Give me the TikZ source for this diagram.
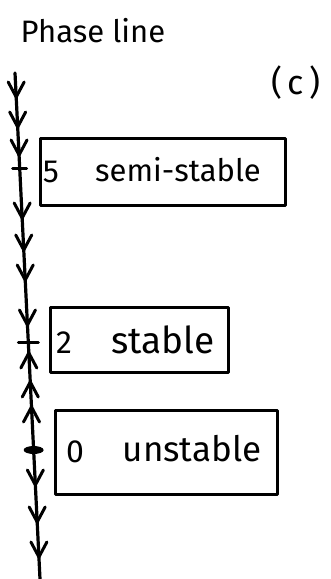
\documentclass[tikz,border=0pt]{standalone}
\usepackage{fontspec}
\setmainfont{Fira Sans}
\usetikzlibrary{calc}
\begin{document}
\begin{tikzpicture}[x=1pt,y=-1pt, line cap=round, line join=round,
  axisline/.style={line width=3.2pt},
  chev/.style={line width=3pt},
  boxnode/.style={draw, line width=3pt, rectangle, inner sep=0pt},
  lbl/.style={inner sep=0pt, anchor=base},
]
\useasboundingbox (0,0) rectangle (331,579);

% title and label
\node[lbl, font=\fontsize{31}{33}\selectfont] (title) at (93,42) {Phase line};
\node[lbl, font=\fontsize{34}{36}\selectfont] (part) at (296,94) {(\,c\,)};

% phase line axis
\coordinate (top) at (15,73);
\coordinate (bot) at (40,579);
\draw[axisline] (top) -- (bot);

% downward arrows
\foreach \yy in {97,127,155,218,250,280,325,485,522,557} {
  \pgfmathsetmacro\tpos{(\yy-73)/506}
  \coordinate (p) at ($(top)!\tpos!(bot)$);
  \draw[chev] ($(p)+(-8,-15)$) -- (p) -- ($(p)+(8,-15)$);
}
% upward arrows
\foreach \yy in {353,382,407} {
  \pgfmathsetmacro\tpos{(\yy-73)/506}
  \coordinate (p) at ($(top)!\tpos!(bot)$);
  \draw[chev] ($(p)+(-8,15)$) -- (p) -- ($(p)+(8,15)$);
}
% equilibrium ticks
\coordinate (e5) at ($(top)!{(168-73)/506}!(bot)$);
\coordinate (e2) at ($(top)!{(343-73)/506}!(bot)$);
\coordinate (e0) at ($(top)!{(450-73)/506}!(bot)$);
\draw[chev] ($(e5)+(-7,0)$) -- ($(e5)+(7,0)$);
\draw[chev] ($(e2)+(-10,0)$) -- ($(e2)+(10,0)$);
\fill (e0) ellipse [x radius=10pt, y radius=4pt];

% boxes
\node[boxnode, minimum width=245pt, minimum height=67pt] (box5) at (162.5,171.5) {};
\node[boxnode, minimum width=178pt, minimum height=65pt] (box2) at (139,339.5) {};
\node[boxnode, minimum width=222pt, minimum height=84pt] (box0) at (166,452) {};

% texts
\node[lbl, font=\fontsize{32}{34}\selectfont] (n5) at (51,182) {5};
\node[lbl, font=\fontsize{31}{33}\selectfont] (t5) at (178,181) {semi-stable};
\node[lbl, font=\fontsize{32}{34}\selectfont] (n2) at (64,353) {2};
\node[lbl, font=\fontsize{37}{39}\selectfont] (t2) at (163,353) {stable};
\node[lbl, font=\fontsize{32}{34}\selectfont] (n0) at (75,462) {0};
\node[lbl, font=\fontsize{35}{37}\selectfont] (t0) at (192,461) {unstable};
\end{tikzpicture}
\end{document}
